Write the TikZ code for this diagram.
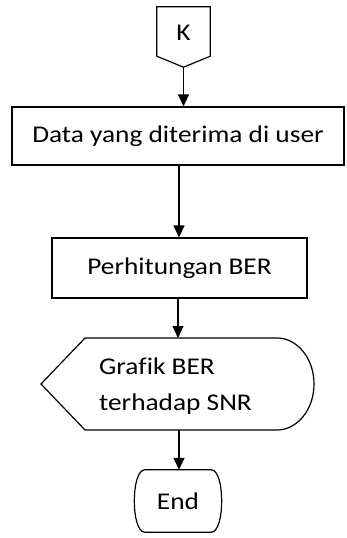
\documentclass[tikz,border=0pt]{standalone}
\usepackage{fontspec}
\setmainfont{Carlito}[FakeStretch=1.14, Ligatures=NoCommon]
\usetikzlibrary{arrows.meta}
\begin{document}
\begin{tikzpicture}[x=1pt,y=-1pt,
  every node/.style={font=\fontsize{24}{36}\selectfont, inner sep=0pt},
  outline/.style={draw=black, line width=1.2pt, line join=miter},
  flow/.style={draw=black, line width=1.2pt, -{Triangle[length=12pt,width=11pt]}}]
  \useasboundingbox (0,0) rectangle (346,538);

  % off-page connector K
  \node (k) [minimum width=53pt, minimum height=60pt] at (183.5,37) {};
  \node (klabel) at (183.5,33) {K};
  \draw[outline] (k.north west) -- (k.north east) -- ([yshift=11pt]k.south east)
    -- (k.south) -- ([yshift=11pt]k.south west) -- cycle;

  % process boxes
  \node (d1) [outline, minimum width=332pt, minimum height=58pt] at (178,136) {Data yang diterima di user};
  \node (d2) [outline, minimum width=255pt, minimum height=60pt] at (179.5,268) {Perhitungan BER};

  % display symbol
  \node (g) [minimum width=273pt, minimum height=92pt] at (177.5,384) {};
  \node (glabel) [anchor=west, align=left] at (99,386) {Grafik BER\\terhadap SNR};
  \draw[outline] (41,384) -- (85,338) -- (277,338)
    arc[start angle=90, end angle=-90, x radius=37pt, y radius=46pt]
    -- (85,430) -- cycle;

  % terminator with bulging sides
  \node (e) [minimum width=90pt, minimum height=62pt] at (178,501) {End};
  \draw[outline] ([xshift=12pt]e.north west) -- ([xshift=-12pt]e.north east)
    .. controls ([xshift=2pt]e.north east) and ([xshift=2pt]e.south east) .. ([xshift=-12pt]e.south east)
    -- ([xshift=12pt]e.south west)
    .. controls ([xshift=-2pt]e.south west) and ([xshift=-2pt]e.north west) .. cycle;

  % connectors
  \draw[flow] (k.south) -- (k.south |- d1.north);
  \draw[flow] (179,165) -- (d2.north -| 179,0);
  \draw[flow] (d2.south -| 178,0) -- (178,338);
  \draw[flow] (179,430) -- (e.north -| 179,0);
\end{tikzpicture}
\end{document}
